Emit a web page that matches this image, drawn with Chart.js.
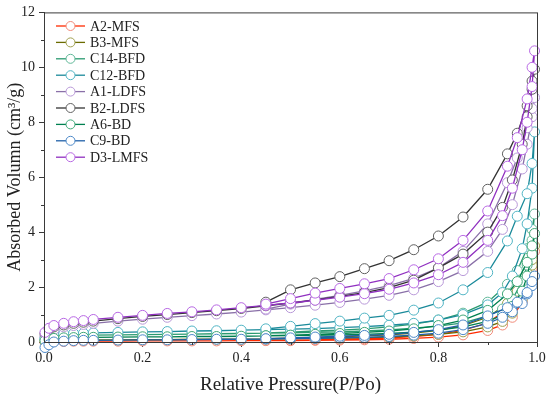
<!DOCTYPE html>
<html>
<head>
<meta charset="utf-8">
<script src="https://cdn.jsdelivr.net/npm/chart.js"></script>
<style>
  html, body { margin: 0; padding: 0; background: #fff; }
  #wrap { width: 550px; height: 397px; }
</style>
</head>
<body>
<div id="wrap"><canvas id="chart" width="550" height="397"></canvas></div>
<script>
// relative pressure points (adsorption up, desorption down)
const adsX = [0.002, 0.01, 0.02, 0.04, 0.06, 0.08, 0.1, 0.15, 0.2, 0.25, 0.3, 0.35, 0.4, 0.45, 0.5, 0.55, 0.6, 0.65, 0.7, 0.75, 0.8, 0.85, 0.9, 0.93, 0.95, 0.97, 0.98, 0.99, 0.995];
const desX = [0.99, 0.98, 0.96, 0.94, 0.9, 0.85, 0.8, 0.75, 0.7, 0.65, 0.6, 0.55, 0.5, 0.45];

const seriesNames = ['A2-MFS', 'B3-MFS', 'C14-BFD', 'C12-BFD', 'A1-LDFS', 'B2-LDFS', 'A6-BD', 'C9-BD', 'D3-LMFS'];

const a2Ads = [0.0, 0.01, 0.02, 0.02, 0.03, 0.03, 0.03, 0.03, 0.04, 0.04, 0.04, 0.04, 0.05, 0.05, 0.05, 0.06, 0.07, 0.08, 0.1, 0.13, 0.18, 0.26, 0.42, 0.62, 0.9, 1.45, 2.0, 2.7, 3.3];
const a2Des = [2.9, 2.3, 1.6, 1.2, 0.7, 0.42, 0.28, 0.2, 0.15, 0.12, 0.1, 0.08, 0.07, 0.06];
const b3Ads = [0.02, 0.04, 0.06, 0.07, 0.07, 0.08, 0.08, 0.08, 0.09, 0.09, 0.1, 0.1, 0.1, 0.11, 0.12, 0.13, 0.14, 0.16, 0.18, 0.22, 0.28, 0.37, 0.55, 0.75, 1.05, 1.55, 2.1, 2.8, 3.5];
const b3Des = [3.0, 2.5, 1.85, 1.4, 0.9, 0.6, 0.42, 0.32, 0.26, 0.22, 0.19, 0.17, 0.14, 0.12];
const c14Ads = [0.1, 0.15, 0.2, 0.22, 0.23, 0.24, 0.25, 0.26, 0.27, 0.28, 0.29, 0.3, 0.31, 0.32, 0.33, 0.35, 0.37, 0.4, 0.44, 0.5, 0.58, 0.7, 0.95, 1.2, 1.55, 2.2, 2.8, 3.7, 4.66];
const c14Des = [4.1, 3.4, 2.6, 2.1, 1.45, 1.05, 0.8, 0.65, 0.55, 0.48, 0.43, 0.4, 0.36, 0.33];
const c12Ads = [0.15, 0.22, 0.27, 0.3, 0.31, 0.32, 0.33, 0.35, 0.37, 0.38, 0.4, 0.41, 0.43, 0.45, 0.47, 0.49, 0.52, 0.56, 0.61, 0.68, 0.8, 1.0, 1.35, 1.8, 2.4, 3.4, 4.3, 5.6, 7.65];
const c12Des = [6.5, 5.4, 4.58, 3.68, 2.53, 1.9, 1.42, 1.16, 0.97, 0.87, 0.76, 0.67, 0.57, 0.48];
const a1Ads = [0.2, 0.35, 0.45, 0.55, 0.6, 0.64, 0.68, 0.76, 0.83, 0.9, 0.96, 1.02, 1.09, 1.17, 1.25, 1.34, 1.44, 1.56, 1.7, 1.9, 2.2, 2.6, 3.3, 4.1, 5.0, 6.3, 7.2, 8.2, 8.9];
const a1Des = [8.5, 7.8, 6.7, 5.8, 4.3, 3.3, 2.7, 2.32, 2.05, 1.86, 1.7, 1.55, 1.38, 1.2];
const b2Ads = [0.3, 0.45, 0.55, 0.62, 0.68, 0.72, 0.76, 0.85, 0.93, 1.0, 1.07, 1.14, 1.22, 1.32, 1.42, 1.53, 1.66, 1.8, 1.98, 2.25, 2.7, 3.2, 4.0, 4.9, 5.9, 7.2, 8.2, 9.2, 9.93];
const b2Des = [9.5, 8.6, 7.6, 6.85, 5.56, 4.55, 3.86, 3.36, 2.96, 2.67, 2.38, 2.15, 1.9, 1.45];
const a6Ads = [0.05, 0.1, 0.13, 0.15, 0.16, 0.17, 0.17, 0.18, 0.19, 0.19, 0.2, 0.2, 0.21, 0.22, 0.23, 0.24, 0.26, 0.28, 0.31, 0.36, 0.43, 0.55, 0.75, 0.98, 1.3, 1.85, 2.4, 3.2, 3.95];
const a6Des = [3.5, 2.9, 2.2, 1.75, 1.15, 0.8, 0.6, 0.48, 0.4, 0.35, 0.31, 0.28, 0.25, 0.23];
const c9Ads = [-0.2, -0.1, 0.0, 0.03, 0.05, 0.06, 0.06, 0.07, 0.08, 0.08, 0.09, 0.1, 0.1, 0.11, 0.12, 0.13, 0.15, 0.17, 0.2, 0.25, 0.32, 0.45, 0.68, 0.9, 1.1, 1.4, 1.75, 2.05, 2.4];
const c9Des = [2.2, 1.8, 1.45, 1.25, 0.95, 0.62, 0.45, 0.35, 0.28, 0.24, 0.21, 0.18, 0.15, 0.12];
const d3Ads = [0.35, 0.5, 0.6, 0.68, 0.74, 0.78, 0.82, 0.9, 0.97, 1.04, 1.1, 1.17, 1.25, 1.33, 1.42, 1.52, 1.63, 1.76, 1.92, 2.15, 2.45, 2.9, 3.7, 4.6, 5.6, 7.0, 8.0, 9.3, 10.6];
const d3Des = [10.0, 8.85, 7.44, 6.4, 4.77, 3.7, 3.03, 2.63, 2.31, 2.12, 1.95, 1.78, 1.58, 1.38];

const adsValues = [a2Ads, b3Ads, c14Ads, c12Ads, a1Ads, b2Ads, a6Ads, c9Ads, d3Ads];
const desValues = [a2Des, b3Des, c14Des, c12Des, a1Des, b2Des, a6Des, c9Des, d3Des];

const yTicks = [0, 2, 4, 6, 8, 10, 12];
const xTicks = [0, 0.2, 0.4, 0.6, 0.8, 1.0];

const lineColors = ['#ff2a00', '#6b6b00', '#2a9a70', '#1a8a9a', '#8a70a8', '#333333', '#008050', '#2060a8', '#9030c0'];
const markColors = ['#f08a78', '#a0a050', '#60b898', '#50b4c4', '#b898d8', '#606060', '#40a878', '#4c88c8', '#b868e4'];

const FONT = '"Liberation Serif", "Times New Roman", serif';
const AXIS = '#3a3a3a';

const datasets = seriesNames.map((name, i) => {
    const pts = adsX.map((x, k) => ({ x: x, y: adsValues[i][k] }))
        .concat(desX.map((x, k) => ({ x: x, y: desValues[i][k] })));
    return {
        label: name,
        data: pts,
        borderColor: lineColors[i],
        borderWidth: 1.3,
        pointRadius: 5,
        pointHoverRadius: 5,
        pointBorderWidth: 1,
        pointBorderColor: markColors[i],
        pointBackgroundColor: '#ffffff',
        showLine: true,
        tension: 0,
        clip: false,
        order: seriesNames.length - 1 - i
    };
});

// frame, minor ticks, legend
const decor = {
    id: 'decor',
    afterDraw(chart) {
        const ctx = chart.ctx;
        const a = chart.chartArea;
        const xs = chart.scales.x, ys = chart.scales.y;
        ctx.save();
        ctx.strokeStyle = AXIS;
        ctx.lineWidth = 1;
        ctx.strokeRect(a.left + 0.5, a.top + 0.5, a.right - a.left, a.bottom - a.top);
        ctx.beginPath();
        for (let v = 1; v < 12; v += 2) {
            const py = Math.round(ys.getPixelForValue(v)) + 0.5;
            ctx.moveTo(a.left, py); ctx.lineTo(a.left - 3, py);
        }
        for (let v = 0.1; v < 1; v += 0.2) {
            const px = Math.round(xs.getPixelForValue(v)) + 0.5;
            ctx.moveTo(px, a.bottom); ctx.lineTo(px, a.bottom + 3);
        }
        ctx.stroke();

        // legend
        ctx.font = '14px ' + FONT;
        ctx.textBaseline = 'middle';
        ctx.textAlign = 'left';
        seriesNames.forEach((name, i) => {
            const y = 26 + i * 16.4;
            ctx.strokeStyle = lineColors[i];
            ctx.lineWidth = 1.3;
            ctx.beginPath();
            ctx.moveTo(56, y); ctx.lineTo(85, y);
            ctx.stroke();
            ctx.beginPath();
            ctx.arc(70.5, y, 4.5, 0, Math.PI * 2);
            ctx.fillStyle = '#fff';
            ctx.fill();
            ctx.strokeStyle = markColors[i];
            ctx.lineWidth = 1;
            ctx.stroke();
            ctx.fillStyle = '#222';
            ctx.fillText(name, 90, y + 1);
        });
        ctx.restore();
    }
};

new Chart(document.getElementById('chart'), {
    type: 'line',
    data: { datasets: datasets },
    options: {
        responsive: false,
        animation: false,
        layout: { padding: { left: 0, right: 13, top: 10, bottom: 0 } },
        plugins: { legend: { display: false }, tooltip: { enabled: false } },
        scales: {
            x: {
                type: 'linear',
                min: 0,
                max: 1,
                afterFit: (s) => { s.height = 55; },
                afterBuildTicks: (s) => { s.ticks = xTicks.map(v => ({ value: v })); },
                ticks: {
                    callback: (v) => v.toFixed(1),
                    font: { family: FONT, size: 14 },
                    color: '#222',
                    padding: 3,
                    maxRotation: 0
                },
                grid: { drawOnChartArea: false, tickLength: 5, color: AXIS },
                border: { display: true, color: AXIS },
                title: {
                    display: true,
                    text: 'Relative Pressure(P/Po)',
                    font: { family: FONT, size: 19 },
                    color: '#222',
                    padding: { top: 0, bottom: 1 }
                }
            },
            y: {
                min: 0,
                max: 12,
                afterFit: (s) => { s.width = 44; },
                afterBuildTicks: (s) => { s.ticks = yTicks.map(v => ({ value: v })); },
                ticks: {
                    font: { family: FONT, size: 14 },
                    color: '#222',
                    padding: 4
                },
                grid: { drawOnChartArea: false, tickLength: 5, color: AXIS },
                border: { display: true, color: AXIS },
                title: {
                    display: true,
                    text: 'Absorbed Volumn (cm\u00b3/g)',
                    font: { family: FONT, size: 18 },
                    color: '#222',
                    padding: { top: 4, bottom: 0 }
                }
            }
        }
    },
    plugins: [decor]
});
</script>
</body>
</html>
